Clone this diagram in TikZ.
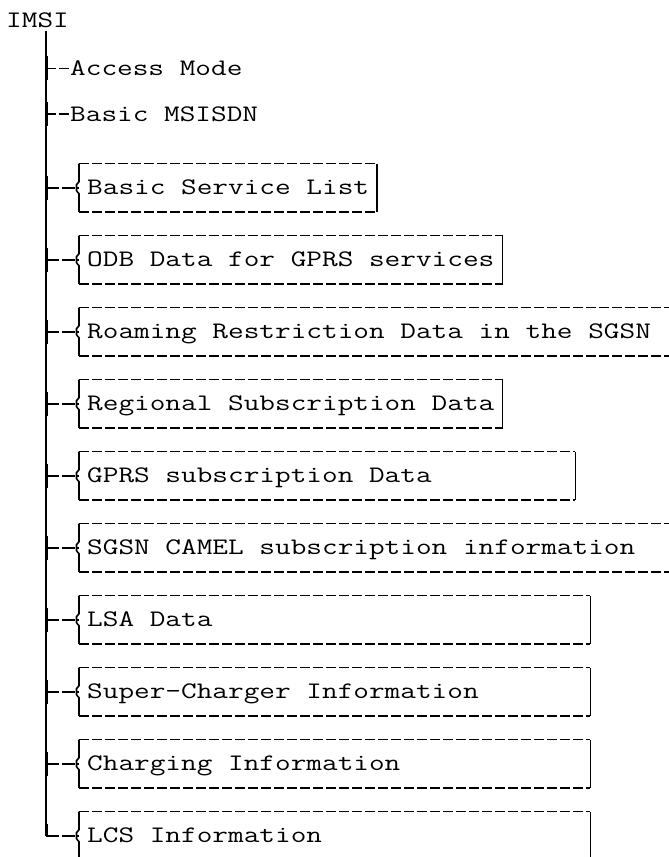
\documentclass[tikz,border=0pt]{standalone}
\usepackage{graphicx}
\newcommand\cw[1]{\scalebox{1.283}[1]{#1}}
\newcommand\padto[2]{\makebox[#1][l]{#2}}
\begin{document}
\begin{tikzpicture}[x=1pt,y=-1pt,
  txt/.style={font=\fontsize{23.7}{28}\selectfont\ttfamily,
              inner sep=0pt, text height=14pt, text depth=0pt},
  lbl/.style={txt, anchor=base west},
  box/.style={txt, anchor=west, minimum height=48pt, inner xsep=8pt, inner ysep=0pt},
  tree/.style={line width=1.6pt},
  tick/.style={line width=1.6pt},
  conn/.style={line width=1.6pt, dash pattern=on 13pt off 2.5pt},
  connshort/.style={line width=1.6pt, dash pattern=on 10pt off 2.5pt},
  dashedge/.style={line width=1.6pt, dash pattern=on 10pt off 3pt},
  side/.style={line width=1.6pt}]
\useasboundingbox (0,0) rectangle (669,857);

% root
\node[lbl] (imsi) at (6,27) {\cw{IMSI}};
\coordinate (top) at (46.2,31);

% plain leaves
\node[lbl] (am) at (70,75.3) {\cw{Access Mode}};
\node[lbl] (bm) at (70,121) {\cw{Basic MSISDN}};

% boxed leaves
\node[box] (b1) at (79,187.7) {\cw{Basic Service List}};
\node[box] (b2) at (79,259.7) {\cw{ODB Data for GPRS services}};
\node[box] (b3) at (79,331.7) {\padto{600pt}{\cw{Roaming Restriction Data in the SGSN}}};
\node[box] (b4) at (79,403.7) {\cw{Regional Subscription Data}};
\node[box] (b5) at (79,475.7) {\padto{480pt}{\cw{GPRS subscription Data}}};
\node[box] (b6) at (79,547.7) {\padto{600pt}{\cw{SGSN CAMEL subscription information}}};
\node[box] (b7) at (79,619.7) {\padto{495pt}{\cw{LSA Data}}};
\node[box] (b8) at (79,691.7) {\padto{495pt}{\cw{Super-Charger Information}}};
\node[box] (b9) at (79,763.7) {\padto{495pt}{\cw{Charging Information}}};
\node[box] (b10) at (79,835.7) {\padto{495pt}{\cw{LCS Information}}};

% junction coordinates on the trunk
\coordinate (jam) at (46.2,68.3);
\coordinate (jbm) at (46.2,114);
\foreach \i/\y in {1/187.7,2/259.7,3/331.7,4/403.7,5/475.7,6/547.7,7/619.7,8/691.7,9/763.7,10/835.7}
  \coordinate (j\i) at (46.2,\y);

% trunk
\draw[tree] (top) -- (j10);

% junction ticks
\foreach \j in {jam,jbm,j1,j2,j3,j4,j5,j6,j7,j8,j9}
  \draw[tick] ([xshift=1pt,yshift=12pt]\j) -- ([xshift=1pt,yshift=-12pt]\j);
\draw[tick] ([xshift=1pt,yshift=12pt]j10) -- ([xshift=1pt]j10);

% connectors
\draw[connshort] (jam) -- ([xshift=-1pt]am.west);
\draw[connshort] (jbm) -- ([xshift=-1pt]bm.west);
\foreach \i in {1,...,10}
  \draw[conn] (j\i) -- (b\i.west);

% boxes
\foreach \i in {1,...,10}{
  \draw[dashedge] (b\i.north west) -- (b\i.north east);
  \draw[dashedge] (b\i.south west) -- (b\i.south east);
  \draw[side] (b\i.north east) -- (b\i.south east);
  \draw[side] (b\i.north west) -- ([yshift=6pt]b\i.west) -- ([xshift=-2.5pt,yshift=3pt]b\i.west)
     -- ([xshift=-2.5pt,yshift=-3pt]b\i.west) -- ([yshift=-6pt]b\i.west) -- (b\i.south west);
}
\end{tikzpicture}
\end{document}
